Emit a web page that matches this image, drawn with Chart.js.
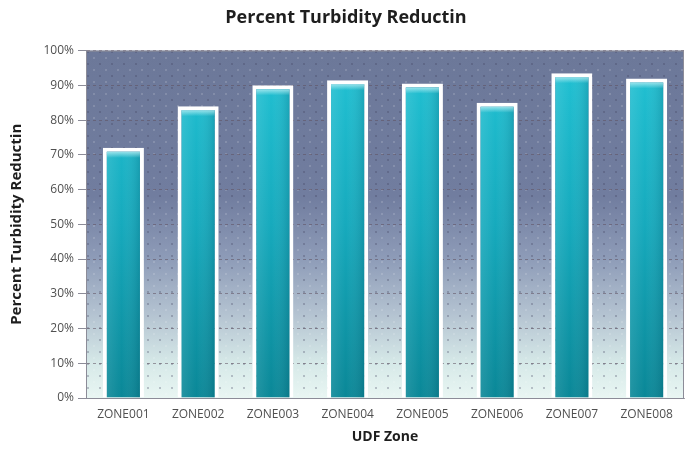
<!DOCTYPE html>
<html>
<head>
<meta charset="utf-8">
<script src="https://cdn.jsdelivr.net/npm/chart.js@4/dist/chart.umd.min.js"></script>
<style>
  html, body { margin: 0; padding: 0; background: #ffffff; }
  #wrap { width: 694px; height: 449px; }
</style>
</head>
<body>
<div id="wrap"><canvas id="c" width="694" height="449"></canvas></div>
<script>
// Zones and their turbidity reduction (percent)
const zones = ['ZONE001', 'ZONE002', 'ZONE003', 'ZONE004', 'ZONE005', 'ZONE006', 'ZONE007', 'ZONE008'];
const reduction = [72, 84, 90, 91.5, 90.5, 85, 93.5, 92];
const yTicks = [0, 10, 20, 30, 40, 50, 60, 70, 80, 90, 100];

const FONT = '"Open Sans", Lato, "Liberation Sans", sans-serif';

// Plot-area backdrop: slate blue fading to pale mint, with a faint dot texture
const backdrop = {
  id: 'backdrop',
  beforeDraw(chart) {
    const { ctx, chartArea: a } = chart;
    if (!a) return;
    ctx.save();
    const g = ctx.createLinearGradient(0, a.top, 0, a.bottom);
    g.addColorStop(0, '#6c7899');
    g.addColorStop(0.42, '#717d9f');
    g.addColorStop(0.6, '#8e9cb8');
    g.addColorStop(0.76, '#b4c3d1');
    g.addColorStop(0.9, '#d6e9e8');
    g.addColorStop(1, '#e9f6f3');
    ctx.fillStyle = g;
    ctx.fillRect(a.left, a.top, a.right - a.left, a.bottom - a.top);

    // dot texture
    const p = document.createElement('canvas');
    p.width = 12; p.height = 12;
    const pc = p.getContext('2d');
    pc.fillStyle = 'rgba(60,60,90,0.35)';
    pc.fillRect(3, 3, 2, 2);
    pc.fillStyle = 'rgba(255,255,255,0.18)';
    pc.fillRect(9, 9, 2, 2);
    ctx.fillStyle = ctx.createPattern(p, 'repeat');
    ctx.globalAlpha = 0.8;
    ctx.fillRect(a.left, a.top, a.right - a.left, a.bottom - a.top);
    ctx.restore();
  },
  afterDatasetsDraw(chart) {
    const { ctx, chartArea: a } = chart;
    const meta = chart.getDatasetMeta(0);
    ctx.save();
    meta.data.forEach((bar) => {
      const { x, y, base, width } = bar.getProps(['x', 'y', 'base', 'width'], true);
      const bw = 4;
      const l = x - width / 2 + bw, r = x + width / 2 - bw, t = y + bw;
      // side shading across each column
      const h = ctx.createLinearGradient(l, 0, r, 0);
      h.addColorStop(0, 'rgba(255,255,255,0.10)');
      h.addColorStop(0.45, 'rgba(255,255,255,0.0)');
      h.addColorStop(1, 'rgba(0,40,60,0.16)');
      ctx.fillStyle = h;
      ctx.fillRect(l, t, r - l, base - t);
      // light cap at the top of each column
      const cap = ctx.createLinearGradient(0, t, 0, t + 6);
      cap.addColorStop(0, 'rgba(190,240,245,0.75)');
      cap.addColorStop(1, 'rgba(190,240,245,0)');
      ctx.fillStyle = cap;
      ctx.fillRect(l, t, r - l, 6);
    });
    // frame around the plot area
    ctx.strokeStyle = '#8c8c98';
    ctx.lineWidth = 1;
    ctx.strokeRect(a.left + 0.5, a.top + 0.5, a.right - a.left - 1, a.bottom - a.top);
    ctx.restore();
  }
};

new Chart(document.getElementById('c'), {
  type: 'bar',
  data: {
    labels: zones,
    datasets: [{
      data: reduction,
      backgroundColor(ctx) {
        const a = ctx.chart.chartArea;
        if (!a) return '#18b0c2';
        const g = ctx.chart.ctx.createLinearGradient(0, a.top, 0, a.bottom);
        g.addColorStop(0, '#22c3d5');
        g.addColorStop(0.5, '#16aabd');
        g.addColorStop(1, '#0a8797');
        return g;
      },
      borderColor: '#ffffff',
      borderWidth: 4,
      borderSkipped: 'start',
      categoryPercentage: 1,
      barPercentage: 0.55
    }]
  },
  plugins: [backdrop],
  options: {
    responsive: false,
    animation: false,
    layout: { padding: { left: 8, right: 10, top: 0, bottom: 4 } },
    plugins: {
      legend: { display: false },
      tooltip: { enabled: false },
      title: {
        display: true,
        text: 'Percent Turbidity Reductin',
        color: '#1e1e1e',
        font: { family: FONT, size: 18, weight: 'bold' },
        padding: { top: 7, bottom: 22 }
      }
    },
    scales: {
      x: {
        grid: { display: false, drawTicks: false },
        border: { display: true, color: '#a0a0a8', width: 1 },
        ticks: {
          color: '#505050',
          font: { family: FONT, size: 12 },
          padding: 9,
          maxRotation: 0
        },
        title: {
          display: true,
          text: 'UDF Zone',
          color: '#1e1e1e',
          font: { family: FONT, size: 14, weight: 'bold' },
          padding: { top: 2, bottom: 0 }
        },
        afterFit(s) { s.height = 47; }
      },
      y: {
        min: 0,
        max: 100,
        afterBuildTicks(s) { s.ticks = yTicks.map(v => ({ value: v })); },
        grid: {
          color: 'rgba(95,80,95,0.55)',
          lineWidth: 1,
          tickColor: '#8c8c98',
          tickLength: 8,
          drawOnChartArea: true
        },
        border: { display: true, color: '#8c8c98', dash: [3, 3], width: 1 },
        ticks: {
          color: '#505050',
          font: { family: FONT, size: 12 },
          padding: 4,
          callback: v => v + '%'
        },
        title: {
          display: true,
          text: 'Percent Turbidity Reductin',
          color: '#1e1e1e',
          font: { family: FONT, size: 15, weight: 'bold' },
          padding: { top: 0, bottom: 5 }
        },
        afterFit(s) { s.width = 78; }
      }
    }
  }
});
</script>
</body>
</html>
